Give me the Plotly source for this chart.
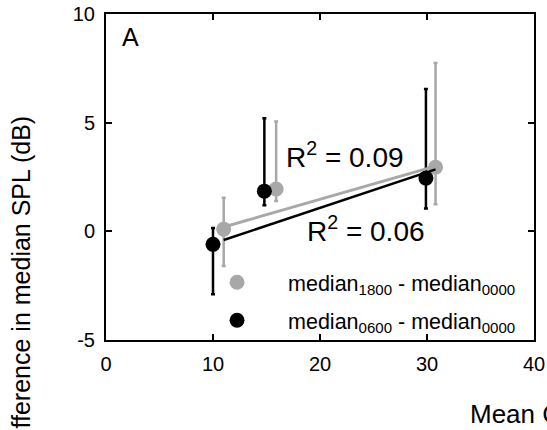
import plotly.graph_objects as go

# ---- data ----
x_1800 = [11.0, 15.9, 30.8]
y_1800 = [0.1, 1.95, 2.95]
hi_1800 = [1.55, 5.05, 7.75]
lo_1800 = [-1.6, 1.4, 1.25]

x_0600 = [10.0, 14.8, 29.9]
y_0600 = [-0.6, 1.85, 2.45]
hi_0600 = [0.15, 5.2, 6.55]
lo_0600 = [-2.9, 1.2, 1.05]

fit_x = [11.0, 30.8]
fit_1800 = [0.2, 3.0]
fit_0600 = [-0.4, 2.85]

r2_1800 = "0.09"
r2_0600 = "0.06"

x_ticks = [0, 10, 20, 30, 40]
x_tick_labels = ["0", "10", "20", "30", "40"]
y_ticks = [-5, 0, 5, 10]
y_tick_labels = ["-5", "0", "5", "10"]

GRAY = "#a8a8a8"
BLACK = "#000000"
FONT = "Liberation Sans, Arial, sans-serif"

fig = go.Figure()

fig.add_trace(go.Scatter(
    x=x_1800, y=y_1800, mode="markers",
    name="median<sub>1800</sub> - median<sub>0000</sub>",
    legendgroup="g1",
    marker=dict(color=GRAY, size=15),
    error_y=dict(type="data", symmetric=False,
                 array=[h - v for h, v in zip(hi_1800, y_1800)],
                 arrayminus=[v - l for l, v in zip(lo_1800, y_1800)],
                 color=GRAY, thickness=2.5, width=2),
))
fig.add_trace(go.Scatter(
    x=x_0600, y=y_0600, mode="markers",
    name="median<sub>0600</sub> - median<sub>0000</sub>",
    legendgroup="g2",
    marker=dict(color=BLACK, size=15),
    error_y=dict(type="data", symmetric=False,
                 array=[h - v for h, v in zip(hi_0600, y_0600)],
                 arrayminus=[v - l for l, v in zip(lo_0600, y_0600)],
                 color=BLACK, thickness=2.5, width=2),
))
fig.add_trace(go.Scatter(x=fit_x, y=fit_1800, mode="lines", showlegend=False,
                         line=dict(color=GRAY, width=3)))
fig.add_trace(go.Scatter(x=fit_x, y=fit_0600, mode="lines", showlegend=False,
                         line=dict(color=BLACK, width=2.5)))

axis_common = dict(
    showline=True, linecolor="black", linewidth=2, mirror="ticks",
    ticks="inside", ticklen=6, tickwidth=1.5, tickcolor="black",
    showgrid=False, zeroline=False, automargin=False,
    tickfont=dict(family=FONT, size=20, color="black"),
)
fig.update_xaxes(range=[0, 40], tickvals=x_ticks, ticktext=x_tick_labels,
                 ticklabelstandoff=5, **axis_common)
fig.update_yaxes(range=[-5, 10], tickvals=y_ticks, ticktext=y_tick_labels,
                 ticklabelstandoff=5, **axis_common)

fig.add_annotation(text="A", xref="x", yref="y", x=2.25, y=8.95, showarrow=False,
                   font=dict(family=FONT, size=25, color="black"))
fig.add_annotation(text="R<sup>2</sup> = " + r2_1800, xref="x", yref="y", x=22.3, y=3.5,
                   showarrow=False, font=dict(family=FONT, size=28, color="black"))
fig.add_annotation(text="R<sup>2</sup> = " + r2_0600, xref="x", yref="y", x=24.3, y=0.1,
                   showarrow=False, font=dict(family=FONT, size=28, color="black"))

# axis titles (cropped in the reference)
fig.add_annotation(text="Difference in median SPL (dB)", xref="paper", yref="paper",
                   x=-0.199, y=0.171, xanchor="center", yanchor="middle", textangle=-90,
                   showarrow=False, font=dict(family=FONT, size=25, color="black"))
fig.add_annotation(text="Mean Coral Cover (%)", xref="paper", yref="paper",
                   x=0.846, y=-0.227, xanchor="left", yanchor="middle",
                   showarrow=False, font=dict(family=FONT, size=26, color="black"))

fig.update_layout(
    width=547, height=430,
    margin=dict(l=106, r=13, t=14, b=90, autoexpand=False),
    plot_bgcolor="white", paper_bgcolor="white",
    showlegend=True,
    legend=dict(x=0.187, y=0.24, xanchor="left", yanchor="top",
                bgcolor="rgba(0,0,0,0)", itemwidth=92, tracegroupgap=7,
                font=dict(family=FONT, size=21.5, color="black")),
)

fig.write_html("out.html")
